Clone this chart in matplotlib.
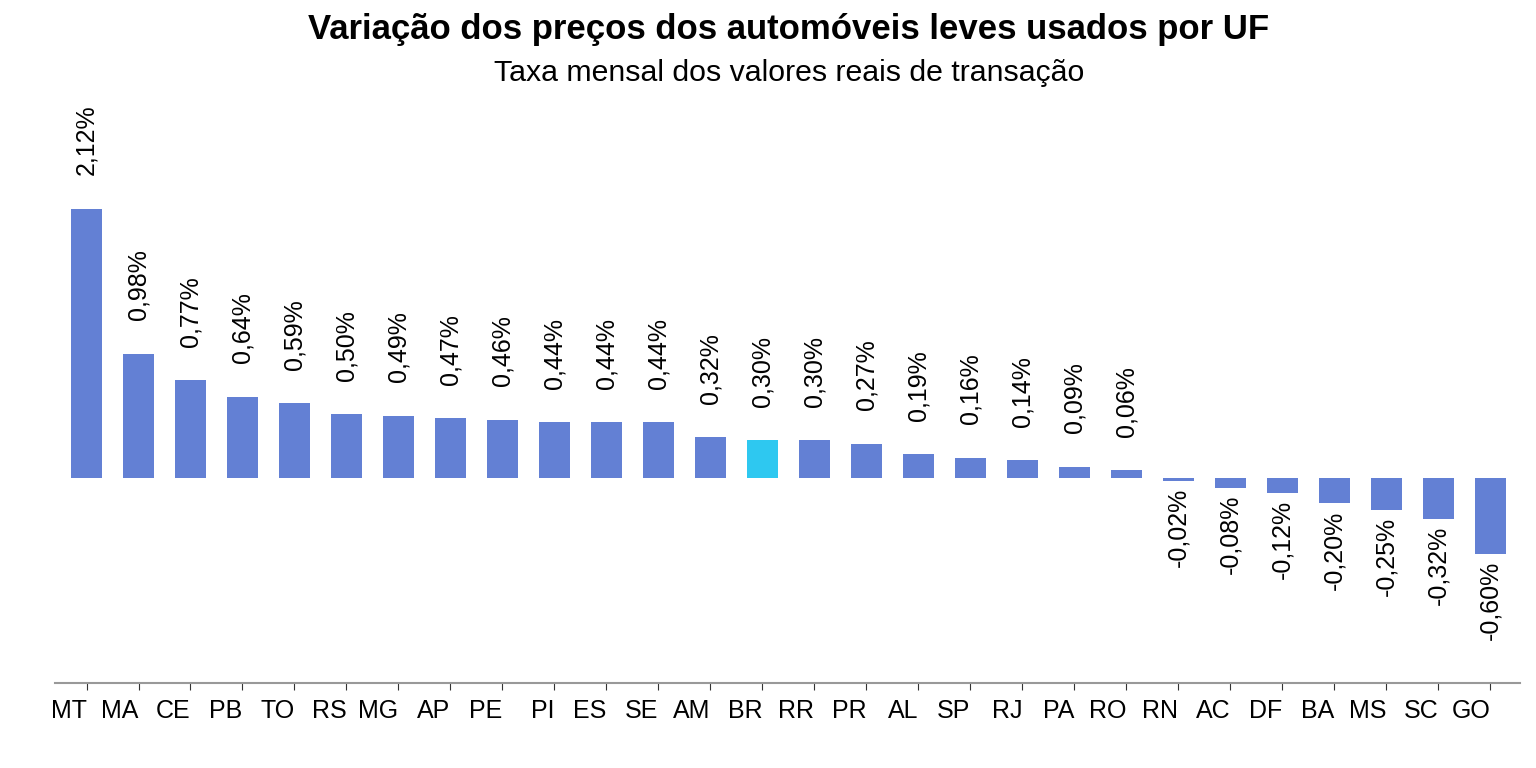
import matplotlib
matplotlib.use('Agg')
import matplotlib.pyplot as plt

plt.rcParams['font.family'] = ['Liberation Sans', 'DejaVu Sans']

# data
ufs = ['MT', 'MA', 'CE', 'PB', 'TO', 'RS', 'MG', 'AP', 'PE', 'PI', 'ES', 'SE', 'AM', 'BR',
       'RR', 'PR', 'AL', 'SP', 'RJ', 'PA', 'RO', 'RN', 'AC', 'DF', 'BA', 'MS', 'SC', 'GO']
taxa = [2.12, 0.98, 0.77, 0.64, 0.59, 0.50, 0.49, 0.47, 0.46, 0.44, 0.44, 0.44, 0.32, 0.30,
        0.30, 0.27, 0.19, 0.16, 0.14, 0.09, 0.06, -0.02, -0.08, -0.12, -0.20, -0.25, -0.32, -0.60]

cor = '#6380d4'
cor_br = '#2ec8f0'
cores = [cor_br if u == 'BR' else cor for u in ufs]

fig = plt.figure(figsize=(15.36, 7.68), dpi=100)
ax = fig.add_axes([55 / 1536, 85 / 768, 1465 / 1536, 583 / 768])

x = list(range(len(ufs)))
ax.bar(x, taxa, width=0.6, color=cores)

for i, v in enumerate(taxa):
    txt = f"{v:.2f}".replace('.', ',') + '%'
    if v >= 0:
        ax.annotate(txt, (i, v), xytext=(0, 24), textcoords='offset points',
                    rotation=90, ha='center', va='bottom', fontsize=18)
    else:
        ax.annotate(txt, (i, v), xytext=(0, -5), textcoords='offset points',
                    rotation=90, ha='center', va='top', fontsize=18)

ax.set_xlim(-0.606, 27.57)
ax.set_ylim(-1.614, 2.976)
ax.set_xticks(x)
ax.set_xticklabels(ufs, fontsize=18, ha='right')
ax.tick_params(axis='x', length=5, color='#333333', pad=6.5)
ax.set_yticks([])
for s in ['top', 'right', 'left']:
    ax.spines[s].set_visible(False)
ax.spines['bottom'].set_color('#999999')
ax.spines['bottom'].set_linewidth(1.5)

fig.text(789 / 1536, 1 - 30 / 768, 'Variação dos preços dos automóveis leves usados por UF',
         ha='center', va='center', fontsize=25, fontweight='bold')
fig.text(789 / 1536, 1 - 73 / 768, 'Taxa mensal dos valores reais de transação',
         ha='center', va='center', fontsize=21.8)

fig.savefig('out.png', dpi=100)
